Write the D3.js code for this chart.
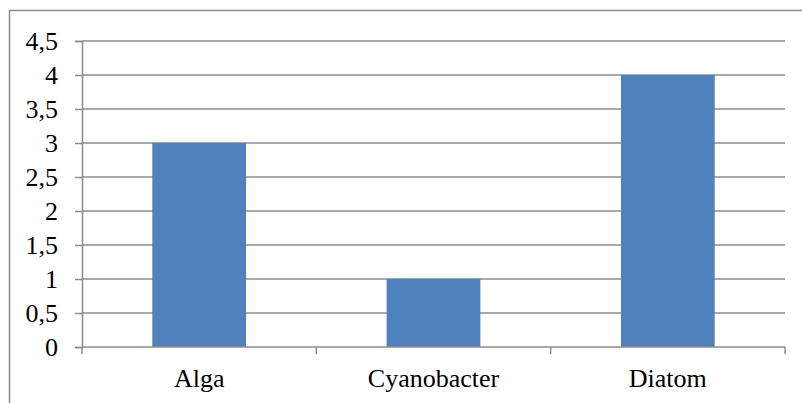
<!DOCTYPE html>
<html><head><meta charset="utf-8">
<script src="https://cdn.jsdelivr.net/npm/d3@7"></script>
<style>html,body{margin:0;padding:0;background:#fff;}svg{display:block;}
svg text{font-family:"Liberation Serif","Times New Roman","DejaVu Serif",serif;}</style>
</head><body>
<svg id="chart" width="802" height="403"></svg>
<script>
const categories = ["Alga", "Cyanobacter", "Diatom"];
const values = [3, 1, 4];
const yTicks = [0, 0.5, 1, 1.5, 2, 2.5, 3, 3.5, 4, 4.5];
const yTickLabels = ["0", "0,5", "1", "1,5", "2", "2,5", "3", "3,5", "4", "4,5"];

(function () {
const svg = d3.select("#chart");
const pLeft = 82, pRight = 785, pTop = 41, pBottom = 347;
const font = '"Liberation Serif","Times New Roman","DejaVu Serif",serif';
const grid = "#8c8c8c";

svg.append("rect").attr("x", 9.5).attr("y", 10.5).attr("width", 800).attr("height", 400)
  .attr("fill", "none").attr("stroke", "#8a8a8a").attr("stroke-width", 1.5);

const x = d3.scaleBand().domain(categories).range([pLeft, pRight]).paddingInner(0.6).paddingOuter(0.3);
const y = d3.scaleLinear().domain([0, 4.5]).range([pBottom, pTop]);

// gridlines
svg.append("g").selectAll("line").data(yTicks.filter(d => d > 0)).join("line")
  .attr("x1", pLeft).attr("x2", pRight)
  .attr("y1", d => y(d)).attr("y2", d => y(d))
  .attr("stroke", grid).attr("stroke-width", 1.5);

// bars
svg.append("g").selectAll("rect").data(categories).join("rect")
  .attr("x", d => x(d)).attr("width", x.bandwidth())
  .attr("y", (d, i) => y(values[i])).attr("height", (d, i) => y(0) - y(values[i]))
  .attr("fill", "#4f81bd");

// y axis
const yAxis = d3.axisLeft(y).tickValues(yTicks).tickSize(7).tickPadding(17)
  .tickFormat((d, i) => yTickLabels[i]);
const gy = svg.append("g").attr("transform", `translate(${pLeft},0)`).call(yAxis);
gy.attr("font-family", null).attr("font-size", null);
gy.select(".domain").attr("stroke", grid).attr("stroke-width", 1.5);
gy.selectAll(".tick line").attr("stroke", grid).attr("stroke-width", 1.5);
gy.selectAll(".tick text").style("font-family", font).style("font-size", "26px").attr("fill", "#000").attr("dy", "0.34em");

// x axis
const xEdges = d3.scaleLinear().domain([0, categories.length]).range([pLeft, pRight]);
svg.append("line").attr("x1", pLeft).attr("x2", pRight).attr("y1", pBottom).attr("y2", pBottom)
  .attr("stroke", grid).attr("stroke-width", 1.5);
svg.append("g").selectAll("line").data(d3.range(categories.length + 1)).join("line")
  .attr("x1", d => xEdges(d)).attr("x2", d => xEdges(d))
  .attr("y1", pBottom).attr("y2", pBottom + 7)
  .attr("stroke", grid).attr("stroke-width", 1.5);
svg.append("g").selectAll("text").data(categories).join("text")
  .attr("x", d => x(d) + x.bandwidth() / 2).attr("y", 387)
  .attr("text-anchor", "middle").style("font-family", font).style("font-size", "26px").attr("fill", "#000")
  .text(d => d);
})();
</script>
</body></html>
